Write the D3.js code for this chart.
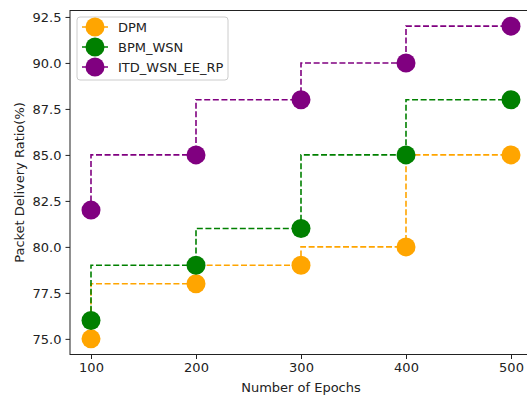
<!DOCTYPE html>
<html>
<head>
<meta charset="utf-8">
<script src="https://cdn.jsdelivr.net/npm/d3@7"></script>
<style>
  body { margin: 0; background: #fff; }
  text { font-family: "DejaVu Sans", sans-serif; fill: #222; }
</style>
</head>
<body>
<svg width="527" height="400"></svg>
<script>
// epochs on x axis
const epochs = [100, 200, 300, 400, 500];

// packet delivery ratio per method
const dpm = [75, 78, 79, 80, 85];
const bpmWsn = [76, 79, 81, 85, 88];
const itdWsn = [82, 85, 88, 90, 92];

const seriesNames = ['DPM', 'BPM_WSN', 'ITD_WSN_EE_RP'];
const seriesColors = ['orange', 'green', 'purple'];
const yTicks = [75.0, 77.5, 80.0, 82.5, 85.0, 87.5, 90.0, 92.5];

const series = [dpm, bpmWsn, itdWsn].map((vals, k) => ({
    name: seriesNames[k],
    color: seriesColors[k],
    points: vals.map((v, i) => ({ x: epochs[i], y: v }))
}));

const svg = d3.select('svg');

// plot area (right edge falls off the picture, like the original)
const plotL = 70, plotR = 532, plotT = 10.5, plotB = 354.5;

const xScale = d3.scaleLinear().domain([80, 520]).range([plotL, plotR]);
const yScale = d3.scaleLinear().domain([74.15, 92.85]).range([plotB, plotT]);

// axes
const xAxis = svg.append('g')
    .attr('transform', `translate(0,${plotB})`)
    .call(d3.axisBottom(xScale).tickValues(epochs).tickSize(4.5).tickPadding(4).tickFormat(d3.format('d')));
const yAxis = svg.append('g')
    .attr('transform', `translate(${plotL},0)`)
    .call(d3.axisLeft(yScale).tickValues(yTicks).tickSize(4.5).tickPadding(4).tickFormat(d3.format('.1f')));

[xAxis, yAxis].forEach(ax => {
    ax.select('.domain').remove();
    ax.selectAll('line').attr('stroke', '#222').attr('stroke-width', 1);
    ax.selectAll('text').style('font-size', '13px').style('font-family', '"DejaVu Sans", sans-serif').attr('fill', '#222');
});

// spines
svg.append('rect')
    .attr('x', plotL).attr('y', plotT)
    .attr('width', plotR - plotL).attr('height', plotB - plotT)
    .attr('fill', 'none').attr('stroke', '#222').attr('stroke-width', 1);

// step lines (steps-pre)
const line = d3.line()
    .x(d => xScale(d.x))
    .y(d => yScale(d.y))
    .curve(d3.curveStepBefore);

series.forEach(s => {
    svg.append('path')
        .datum(s.points)
        .attr('d', line)
        .attr('fill', 'none')
        .attr('stroke', s.color)
        .attr('stroke-width', 1.6)
        .attr('stroke-dasharray', '6,2.6');
});

series.forEach(s => {
    svg.selectAll(null)
        .data(s.points)
        .enter().append('circle')
        .attr('cx', d => xScale(d.x))
        .attr('cy', d => yScale(d.y))
        .attr('r', 9.5)
        .attr('fill', s.color);
});

// legend
const legend = svg.append('g').attr('transform', 'translate(77,17)');
legend.append('rect')
    .attr('width', 151).attr('height', 63).attr('rx', 3)
    .attr('fill', 'rgba(255,255,255,0.8)').attr('stroke', '#ccc');

series.forEach((s, i) => {
    const y = 10 + i * 20;
    legend.append('line')
        .attr('x1', 5).attr('x2', 31).attr('y1', y).attr('y2', y)
        .attr('stroke', s.color).attr('stroke-width', 1.5);
    legend.append('circle')
        .attr('cx', 18).attr('cy', y).attr('r', 9.5).attr('fill', s.color);
    legend.append('text')
        .attr('x', 41).attr('y', y).attr('dy', '0.35em')
        .style('font-size', '13px')
        .text(s.name);
});

// axis labels
svg.append('text')
    .attr('x', 301)
    .attr('y', 392)
    .attr('text-anchor', 'middle')
    .style('font-size', '13px')
    .text('Number of Epochs');

svg.append('text')
    .attr('transform', `translate(24,${(plotT + plotB) / 2}) rotate(-90)`)
    .attr('text-anchor', 'middle')
    .style('font-size', '13px')
    .text('Packet Delivery Ratio(%)');
</script>
</body>
</html>
